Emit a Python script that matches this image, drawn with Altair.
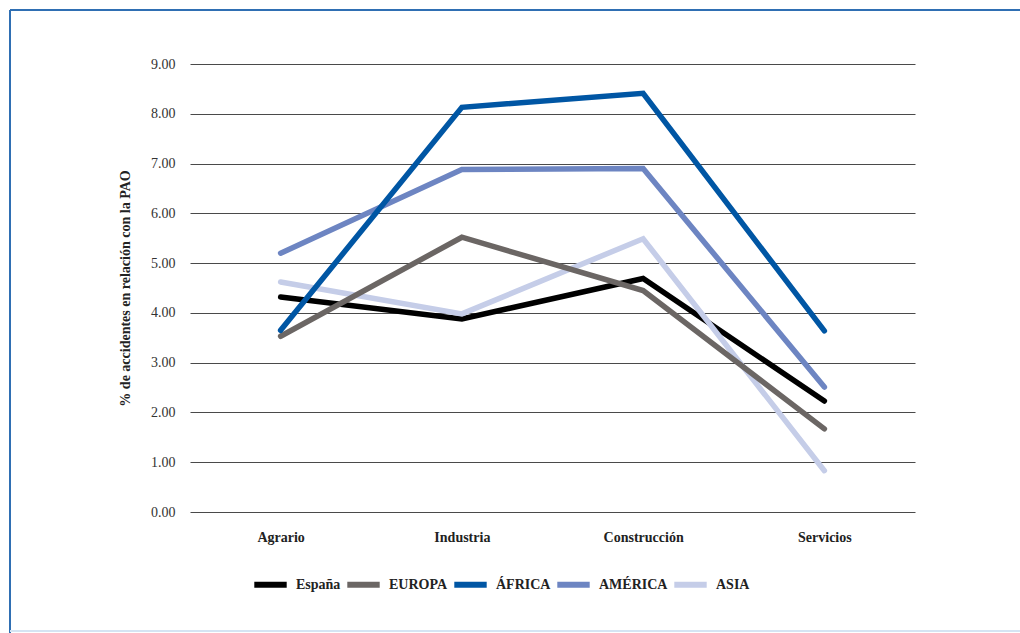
import altair as alt
import pandas as pd

# Sectors on the x axis
sectores = ["Agrario", "Industria", "Construcción", "Servicios"]

# % of accidents relative to the employed population (PAO), per region
espana = [4.32, 3.88, 4.69, 2.23]
europa = [3.53, 5.52, 4.45, 1.67]
africa = [3.65, 8.13, 8.41, 3.64]
america = [5.20, 6.88, 6.90, 2.51]
asia = [4.62, 3.98, 5.49, 0.83]

series = ["España", "EUROPA", "ÁFRICA", "AMÉRICA", "ASIA"]
colores = ["#000000", "#6b6664", "#0056a4", "#6d85c2", "#c5cde8"]
# drawing order (bottom to top)
capas = ["España", "ASIA", "EUROPA", "AMÉRICA", "ÁFRICA"]

valores = {"España": espana, "EUROPA": europa, "ÁFRICA": africa,
           "AMÉRICA": america, "ASIA": asia}

rows = []
for s in capas:
    for sec, v in zip(sectores, valores[s]):
        rows.append({"serie": s, "sector": sec, "valor": v, "capa": capas.index(s)})
df = pd.DataFrame(rows)

FONT = "Liberation Serif"
W, H = 725, 448
LEFT, TOP = 190, 64

lines = alt.Chart(df).mark_line(strokeWidth=5.5, strokeCap="round").encode(
    x=alt.X("sector:N", sort=sectores, title=None,
            scale=alt.Scale(paddingInner=0, paddingOuter=0),
            axis=alt.Axis(labelAngle=0, ticks=False, domain=False, grid=False,
                          labelFont=FONT, labelFontSize=14, labelFontWeight="bold",
                          labelColor="#222222", labelPadding=18)),
    y=alt.Y("valor:Q", title="% de accidentes en relación con la PAO",
            scale=alt.Scale(domain=[0, 9], nice=False),
            axis=alt.Axis(values=list(range(10)), format=".2f", ticks=False, domain=False,
                          gridColor="#4a4a4a", gridWidth=1, gridOpacity=1,
                          labelFont=FONT, labelFontSize=14, labelColor="#333333",
                          labelPadding=15, titleFont=FONT, titleFontSize=14,
                          titleFontWeight="bold", titleColor="#222222", titlePadding=18)),
    color=alt.Color("serie:N", sort=series,
                    scale=alt.Scale(domain=series, range=colores),
                    legend=alt.Legend(title=None, orient="none", direction="horizontal",
                                      legendX=61, legendY=501,
                                      symbolType="stroke", symbolSize=1050,
                                      symbolStrokeWidth=6, labelFont=FONT,
                                      labelFontSize=14, labelFontWeight="bold",
                                      labelColor="#222222", labelOffset=6,
                                      columnPadding=-6)),
    detail="capa:O",
    order=alt.Order("capa:O"),
)

# Outer frame of the figure
marco_sup = alt.Chart(df).mark_rule(color="#2f6fb3", strokeWidth=2).encode(
    x=alt.value(10 - LEFT), x2=alt.value(1020 - LEFT), y=alt.value(10 - TOP))
marco_izq = alt.Chart(df).mark_rule(color="#2f6fb3", strokeWidth=2).encode(
    x=alt.value(10 - LEFT), y=alt.value(10 - TOP), y2=alt.value(633 - TOP))
marco_inf = alt.Chart(df).mark_rule(color="#d5e4f3", strokeWidth=2).encode(
    x=alt.value(10 - LEFT), x2=alt.value(1020 - LEFT), y=alt.value(631 - TOP))

chart = alt.layer(lines, marco_sup, marco_izq, marco_inf).properties(
    width=W, height=H,
    padding={"left": LEFT, "top": TOP, "right": 1020 - LEFT - W, "bottom": 633 - TOP - H},
    autosize=alt.AutoSizeParams(type="none"),
    background="white",
).configure_view(stroke=None)

chart.save("out.html", embed_options={"renderer": "svg", "actions": False})
